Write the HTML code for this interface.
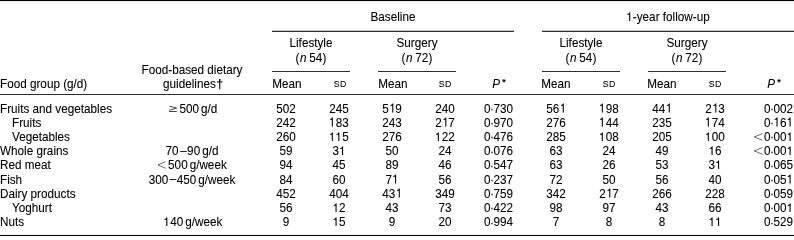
<!DOCTYPE html>
<html><head><meta charset="utf-8"><style>
html,body{margin:0;padding:0;background:#fff;}
body{width:794px;height:236px;position:relative;overflow:hidden;font-family:"Liberation Sans",sans-serif;font-size:12.6px;color:#000;}
.wrap{position:absolute;left:0;top:0;width:794px;height:236px;will-change:transform;}
.t{position:absolute;white-space:nowrap;line-height:16px;height:16px;transform:scaleX(0.93016);-webkit-text-stroke:0.1px #000;}
.r{position:absolute;}
.sd{font-size:9.45px;letter-spacing:0.4px;position:relative;top:-0.8px;margin-left:0.4px;}
.ast{font-size:9.45px;position:relative;top:-2.3px;font-weight:bold;}
.dag{font-weight:bold;}
.dot{margin:0 -0.55px;position:relative;top:0.4px;}
i{font-style:italic;}
.sym{vertical-align:0;}
.one{vertical-align:0;}
.dash{position:relative;top:-0.7px;}
</style></head><body>
<div class="wrap">
<div class="r" style="left:0px;width:794px;top:0px;height:1px;background:#000"></div>
<div class="r" style="left:0px;width:794px;top:1px;height:1px;background:#efefef"></div>
<div class="r" style="left:272px;width:242px;top:30px;height:1px;background:#c8c8c8"></div>
<div class="r" style="left:272px;width:242px;top:31px;height:1px;background:#2e2e2e"></div>
<div class="r" style="left:542px;width:252px;top:30px;height:1px;background:#c8c8c8"></div>
<div class="r" style="left:542px;width:252px;top:31px;height:1px;background:#2e2e2e"></div>
<div class="r" style="left:272px;width:77.5px;top:71px;height:1px;background:#2e2e2e"></div>
<div class="r" style="left:378px;width:77.5px;top:71px;height:1px;background:#2e2e2e"></div>
<div class="r" style="left:542px;width:77.5px;top:71px;height:1px;background:#2e2e2e"></div>
<div class="r" style="left:648px;width:77.5px;top:71px;height:1px;background:#2e2e2e"></div>
<div class="r" style="left:0px;width:794px;top:94px;height:1px;background:#2e2e2e"></div>
<div class="r" style="left:0px;width:794px;top:234px;height:1px;background:#f4f4f4"></div>
<div class="r" style="left:0px;width:794px;top:235px;height:1px;background:#000"></div>
<div class="t" style="left:242.90px;width:300px;text-align:center;transform-origin:50% 0;top:9.03px;">Baseline</div>
<div class="t" style="left:518.00px;width:300px;text-align:center;transform-origin:50% 0;top:9.03px;"><svg class="one" width="7.006" height="9.450" viewBox="0 -750 556 750"><path d="M262,0 L348,0 L348,-709 L280,-709 C262,-640 215,-598 108,-590 L108,-526 L262,-526 Z" fill="#000" stroke="#000" stroke-width="8"/></svg>-year follow-up</div>
<div class="t" style="left:160.75px;width:300px;text-align:center;transform-origin:50% 0;top:35.23px;">Lifestyle</div>
<div class="t" style="left:160.60px;width:300px;text-align:center;transform-origin:50% 0;top:49.83px;">(<span style="display:inline-block;width:0.645px"></span><i>n</i><span style="display:inline-block;width:2.795px"></span>54<span style="display:inline-block;width:0.430px"></span>)</div>
<div class="t" style="left:266.50px;width:300px;text-align:center;transform-origin:50% 0;top:35.23px;">Surgery</div>
<div class="t" style="left:266.70px;width:300px;text-align:center;transform-origin:50% 0;top:49.83px;">(<span style="display:inline-block;width:0.645px"></span><i>n</i><span style="display:inline-block;width:2.795px"></span>72<span style="display:inline-block;width:0.430px"></span>)</div>
<div class="t" style="left:430.75px;width:300px;text-align:center;transform-origin:50% 0;top:35.23px;">Lifestyle</div>
<div class="t" style="left:430.60px;width:300px;text-align:center;transform-origin:50% 0;top:49.83px;">(<span style="display:inline-block;width:0.645px"></span><i>n</i><span style="display:inline-block;width:2.795px"></span>54<span style="display:inline-block;width:0.430px"></span>)</div>
<div class="t" style="left:536.50px;width:300px;text-align:center;transform-origin:50% 0;top:35.23px;">Surgery</div>
<div class="t" style="left:536.70px;width:300px;text-align:center;transform-origin:50% 0;top:49.83px;">(<span style="display:inline-block;width:0.645px"></span><i>n</i><span style="display:inline-block;width:2.795px"></span>72<span style="display:inline-block;width:0.430px"></span>)</div>
<div class="t" style="left:0.00px;transform-origin:0 0;top:75.73px;">Food group (g/d)</div>
<div class="t" style="left:42.40px;width:300px;text-align:center;transform-origin:50% 0;top:61.83px;">Food-based dietary</div>
<div class="t" style="left:42.60px;width:300px;text-align:center;transform-origin:50% 0;top:75.83px;">guidelines<span style="display:inline-block;width:0.645px"></span><span class="dag">&#8224;</span></div>
<div class="t" style="left:136.60px;width:300px;text-align:center;transform-origin:50% 0;top:75.73px;">Mean</div>
<div class="t" style="left:242.50px;width:300px;text-align:center;transform-origin:50% 0;top:75.73px;">Mean</div>
<div class="t" style="left:406.20px;width:300px;text-align:center;transform-origin:50% 0;top:75.73px;">Mean</div>
<div class="t" style="left:512.20px;width:300px;text-align:center;transform-origin:50% 0;top:75.73px;">Mean</div>
<div class="t" style="left:189.50px;width:300px;text-align:center;transform-origin:50% 0;top:75.73px;"><span class="sd">SD</span></div>
<div class="t" style="left:295.40px;width:300px;text-align:center;transform-origin:50% 0;top:75.73px;"><span class="sd">SD</span></div>
<div class="t" style="left:459.40px;width:300px;text-align:center;transform-origin:50% 0;top:75.73px;"><span class="sd">SD</span></div>
<div class="t" style="left:565.30px;width:300px;text-align:center;transform-origin:50% 0;top:75.73px;"><span class="sd">SD</span></div>
<div class="t" style="left:348.50px;width:300px;text-align:center;transform-origin:50% 0;top:75.73px;"><i>P</i><span style="display:inline-block;width:2.365px"></span><span class="ast">*</span></div>
<div class="t" style="left:624.00px;width:300px;text-align:center;transform-origin:50% 0;top:75.73px;"><i>P</i><span style="display:inline-block;width:2.365px"></span><span class="ast">*</span></div>
<div class="t" style="left:0.00px;transform-origin:0 0;top:100.53px;">Fruits and vegetables</div>
<div class="t" style="left:42.75px;width:300px;text-align:center;transform-origin:50% 0;top:100.53px;"><svg class="sym" width="9.676" height="9" viewBox="0 0 9 9" preserveAspectRatio="none"><polyline points="0.6,2.2 7.8,4.05 0.6,6.25" fill="none" stroke="#333" stroke-width="0.9"/><line x1="0.2" y1="7.5" x2="8.0" y2="7.5" stroke="#333" stroke-width="0.9"/></svg><span style="display:inline-block;width:1.935px"></span>500<span style="display:inline-block;width:2.150px"></span>g/d</div>
<div class="t" style="left:136.20px;width:300px;text-align:center;transform-origin:50% 0;top:100.53px;">502</div>
<div class="t" style="left:189.20px;width:300px;text-align:center;transform-origin:50% 0;top:100.53px;">245</div>
<div class="t" style="left:242.10px;width:300px;text-align:center;transform-origin:50% 0;top:100.53px;">5<svg class="one" width="7.006" height="9.450" viewBox="0 -750 556 750"><path d="M262,0 L348,0 L348,-709 L280,-709 C262,-640 215,-598 108,-590 L108,-526 L262,-526 Z" fill="#000" stroke="#000" stroke-width="8"/></svg>9</div>
<div class="t" style="left:295.40px;width:300px;text-align:center;transform-origin:50% 0;top:100.53px;">240</div>
<div class="t" style="left:212.80px;width:300px;text-align:right;transform-origin:100% 0;top:100.53px;">0<span class="dot">·</span>730</div>
<div class="t" style="left:405.90px;width:300px;text-align:center;transform-origin:50% 0;top:100.53px;">56<svg class="one" width="7.006" height="9.450" viewBox="0 -750 556 750"><path d="M262,0 L348,0 L348,-709 L280,-709 C262,-640 215,-598 108,-590 L108,-526 L262,-526 Z" fill="#000" stroke="#000" stroke-width="8"/></svg></div>
<div class="t" style="left:459.10px;width:300px;text-align:center;transform-origin:50% 0;top:100.53px;"><svg class="one" width="7.006" height="9.450" viewBox="0 -750 556 750"><path d="M262,0 L348,0 L348,-709 L280,-709 C262,-640 215,-598 108,-590 L108,-526 L262,-526 Z" fill="#000" stroke="#000" stroke-width="8"/></svg>98</div>
<div class="t" style="left:511.70px;width:300px;text-align:center;transform-origin:50% 0;top:100.53px;">44<svg class="one" width="7.006" height="9.450" viewBox="0 -750 556 750"><path d="M262,0 L348,0 L348,-709 L280,-709 C262,-640 215,-598 108,-590 L108,-526 L262,-526 Z" fill="#000" stroke="#000" stroke-width="8"/></svg></div>
<div class="t" style="left:564.90px;width:300px;text-align:center;transform-origin:50% 0;top:100.53px;">2<svg class="one" width="7.006" height="9.450" viewBox="0 -750 556 750"><path d="M262,0 L348,0 L348,-709 L280,-709 C262,-640 215,-598 108,-590 L108,-526 L262,-526 Z" fill="#000" stroke="#000" stroke-width="8"/></svg>3</div>
<div class="t" style="left:493.00px;width:300px;text-align:right;transform-origin:100% 0;top:100.53px;">0<span class="dot">·</span>002</div>
<div class="t" style="left:11.60px;transform-origin:0 0;top:114.75px;">Fruits</div>
<div class="t" style="left:136.20px;width:300px;text-align:center;transform-origin:50% 0;top:114.75px;">242</div>
<div class="t" style="left:189.20px;width:300px;text-align:center;transform-origin:50% 0;top:114.75px;"><svg class="one" width="7.006" height="9.450" viewBox="0 -750 556 750"><path d="M262,0 L348,0 L348,-709 L280,-709 C262,-640 215,-598 108,-590 L108,-526 L262,-526 Z" fill="#000" stroke="#000" stroke-width="8"/></svg>83</div>
<div class="t" style="left:242.10px;width:300px;text-align:center;transform-origin:50% 0;top:114.75px;">243</div>
<div class="t" style="left:295.40px;width:300px;text-align:center;transform-origin:50% 0;top:114.75px;">2<svg class="one" width="7.006" height="9.450" viewBox="0 -750 556 750"><path d="M262,0 L348,0 L348,-709 L280,-709 C262,-640 215,-598 108,-590 L108,-526 L262,-526 Z" fill="#000" stroke="#000" stroke-width="8"/></svg>7</div>
<div class="t" style="left:212.80px;width:300px;text-align:right;transform-origin:100% 0;top:114.75px;">0<span class="dot">·</span>970</div>
<div class="t" style="left:405.90px;width:300px;text-align:center;transform-origin:50% 0;top:114.75px;">276</div>
<div class="t" style="left:459.10px;width:300px;text-align:center;transform-origin:50% 0;top:114.75px;"><svg class="one" width="7.006" height="9.450" viewBox="0 -750 556 750"><path d="M262,0 L348,0 L348,-709 L280,-709 C262,-640 215,-598 108,-590 L108,-526 L262,-526 Z" fill="#000" stroke="#000" stroke-width="8"/></svg>44</div>
<div class="t" style="left:511.70px;width:300px;text-align:center;transform-origin:50% 0;top:114.75px;">235</div>
<div class="t" style="left:564.90px;width:300px;text-align:center;transform-origin:50% 0;top:114.75px;"><svg class="one" width="7.006" height="9.450" viewBox="0 -750 556 750"><path d="M262,0 L348,0 L348,-709 L280,-709 C262,-640 215,-598 108,-590 L108,-526 L262,-526 Z" fill="#000" stroke="#000" stroke-width="8"/></svg>74</div>
<div class="t" style="left:493.00px;width:300px;text-align:right;transform-origin:100% 0;top:114.75px;">0<span class="dot">·</span><svg class="one" width="7.006" height="9.450" viewBox="0 -750 556 750"><path d="M262,0 L348,0 L348,-709 L280,-709 C262,-640 215,-598 108,-590 L108,-526 L262,-526 Z" fill="#000" stroke="#000" stroke-width="8"/></svg>6<svg class="one" width="7.006" height="9.450" viewBox="0 -750 556 750"><path d="M262,0 L348,0 L348,-709 L280,-709 C262,-640 215,-598 108,-590 L108,-526 L262,-526 Z" fill="#000" stroke="#000" stroke-width="8"/></svg></div>
<div class="t" style="left:11.60px;transform-origin:0 0;top:128.97px;">Vegetables</div>
<div class="t" style="left:136.20px;width:300px;text-align:center;transform-origin:50% 0;top:128.97px;">260</div>
<div class="t" style="left:189.20px;width:300px;text-align:center;transform-origin:50% 0;top:128.97px;"><svg class="one" width="7.006" height="9.450" viewBox="0 -750 556 750"><path d="M262,0 L348,0 L348,-709 L280,-709 C262,-640 215,-598 108,-590 L108,-526 L262,-526 Z" fill="#000" stroke="#000" stroke-width="8"/></svg><svg class="one" width="7.006" height="9.450" viewBox="0 -750 556 750"><path d="M262,0 L348,0 L348,-709 L280,-709 C262,-640 215,-598 108,-590 L108,-526 L262,-526 Z" fill="#000" stroke="#000" stroke-width="8"/></svg>5</div>
<div class="t" style="left:242.10px;width:300px;text-align:center;transform-origin:50% 0;top:128.97px;">276</div>
<div class="t" style="left:295.40px;width:300px;text-align:center;transform-origin:50% 0;top:128.97px;"><svg class="one" width="7.006" height="9.450" viewBox="0 -750 556 750"><path d="M262,0 L348,0 L348,-709 L280,-709 C262,-640 215,-598 108,-590 L108,-526 L262,-526 Z" fill="#000" stroke="#000" stroke-width="8"/></svg>22</div>
<div class="t" style="left:212.80px;width:300px;text-align:right;transform-origin:100% 0;top:128.97px;">0<span class="dot">·</span>476</div>
<div class="t" style="left:405.90px;width:300px;text-align:center;transform-origin:50% 0;top:128.97px;">285</div>
<div class="t" style="left:459.10px;width:300px;text-align:center;transform-origin:50% 0;top:128.97px;"><svg class="one" width="7.006" height="9.450" viewBox="0 -750 556 750"><path d="M262,0 L348,0 L348,-709 L280,-709 C262,-640 215,-598 108,-590 L108,-526 L262,-526 Z" fill="#000" stroke="#000" stroke-width="8"/></svg>08</div>
<div class="t" style="left:511.70px;width:300px;text-align:center;transform-origin:50% 0;top:128.97px;">205</div>
<div class="t" style="left:564.90px;width:300px;text-align:center;transform-origin:50% 0;top:128.97px;"><svg class="one" width="7.006" height="9.450" viewBox="0 -750 556 750"><path d="M262,0 L348,0 L348,-709 L280,-709 C262,-640 215,-598 108,-590 L108,-526 L262,-526 Z" fill="#000" stroke="#000" stroke-width="8"/></svg>00</div>
<div class="t" style="left:493.00px;width:300px;text-align:right;transform-origin:100% 0;top:128.97px;"><svg class="sym" width="9.676" height="9" viewBox="0 0 9.0 9" preserveAspectRatio="none"><polyline points="8.5,1.6 0.3,4.95 8.5,8.3" fill="none" stroke="#444" stroke-width="0.8"/></svg><span style="display:inline-block;width:1.290px"></span>0<span class="dot">·</span>00<svg class="one" width="7.006" height="9.450" viewBox="0 -750 556 750"><path d="M262,0 L348,0 L348,-709 L280,-709 C262,-640 215,-598 108,-590 L108,-526 L262,-526 Z" fill="#000" stroke="#000" stroke-width="8"/></svg></div>
<div class="t" style="left:0.00px;transform-origin:0 0;top:143.19px;">Whole grains</div>
<div class="t" style="left:42.30px;width:300px;text-align:center;transform-origin:50% 0;top:143.19px;">70<span style="display:inline-block;width:1.720px"></span><span class="dash">&#8211;</span><span style="display:inline-block;width:0.430px"></span>90<span style="display:inline-block;width:2.150px"></span>g/d</div>
<div class="t" style="left:136.20px;width:300px;text-align:center;transform-origin:50% 0;top:143.19px;">59</div>
<div class="t" style="left:189.20px;width:300px;text-align:center;transform-origin:50% 0;top:143.19px;">3<svg class="one" width="7.006" height="9.450" viewBox="0 -750 556 750"><path d="M262,0 L348,0 L348,-709 L280,-709 C262,-640 215,-598 108,-590 L108,-526 L262,-526 Z" fill="#000" stroke="#000" stroke-width="8"/></svg></div>
<div class="t" style="left:242.10px;width:300px;text-align:center;transform-origin:50% 0;top:143.19px;">50</div>
<div class="t" style="left:295.40px;width:300px;text-align:center;transform-origin:50% 0;top:143.19px;">24</div>
<div class="t" style="left:212.80px;width:300px;text-align:right;transform-origin:100% 0;top:143.19px;">0<span class="dot">·</span>076</div>
<div class="t" style="left:405.90px;width:300px;text-align:center;transform-origin:50% 0;top:143.19px;">63</div>
<div class="t" style="left:459.10px;width:300px;text-align:center;transform-origin:50% 0;top:143.19px;">24</div>
<div class="t" style="left:511.70px;width:300px;text-align:center;transform-origin:50% 0;top:143.19px;">49</div>
<div class="t" style="left:564.90px;width:300px;text-align:center;transform-origin:50% 0;top:143.19px;"><svg class="one" width="7.006" height="9.450" viewBox="0 -750 556 750"><path d="M262,0 L348,0 L348,-709 L280,-709 C262,-640 215,-598 108,-590 L108,-526 L262,-526 Z" fill="#000" stroke="#000" stroke-width="8"/></svg>6</div>
<div class="t" style="left:493.00px;width:300px;text-align:right;transform-origin:100% 0;top:143.19px;"><svg class="sym" width="9.676" height="9" viewBox="0 0 9.0 9" preserveAspectRatio="none"><polyline points="8.5,1.6 0.3,4.95 8.5,8.3" fill="none" stroke="#444" stroke-width="0.8"/></svg><span style="display:inline-block;width:1.290px"></span>0<span class="dot">·</span>00<svg class="one" width="7.006" height="9.450" viewBox="0 -750 556 750"><path d="M262,0 L348,0 L348,-709 L280,-709 C262,-640 215,-598 108,-590 L108,-526 L262,-526 Z" fill="#000" stroke="#000" stroke-width="8"/></svg></div>
<div class="t" style="left:0.00px;transform-origin:0 0;top:157.41px;">Red meat</div>
<div class="t" style="left:42.40px;width:300px;text-align:center;transform-origin:50% 0;top:157.41px;"><svg class="sym" width="9.138" height="9" viewBox="0 0 8.5 9" preserveAspectRatio="none"><polyline points="8.0,1.6 0.3,4.95 8.0,8.3" fill="none" stroke="#444" stroke-width="0.8"/></svg><span style="display:inline-block;width:2.580px"></span>500<span style="display:inline-block;width:2.150px"></span>g/week</div>
<div class="t" style="left:136.20px;width:300px;text-align:center;transform-origin:50% 0;top:157.41px;">94</div>
<div class="t" style="left:189.20px;width:300px;text-align:center;transform-origin:50% 0;top:157.41px;">45</div>
<div class="t" style="left:242.10px;width:300px;text-align:center;transform-origin:50% 0;top:157.41px;">89</div>
<div class="t" style="left:295.40px;width:300px;text-align:center;transform-origin:50% 0;top:157.41px;">46</div>
<div class="t" style="left:212.80px;width:300px;text-align:right;transform-origin:100% 0;top:157.41px;">0<span class="dot">·</span>547</div>
<div class="t" style="left:405.90px;width:300px;text-align:center;transform-origin:50% 0;top:157.41px;">63</div>
<div class="t" style="left:459.10px;width:300px;text-align:center;transform-origin:50% 0;top:157.41px;">26</div>
<div class="t" style="left:511.70px;width:300px;text-align:center;transform-origin:50% 0;top:157.41px;">53</div>
<div class="t" style="left:564.90px;width:300px;text-align:center;transform-origin:50% 0;top:157.41px;">3<svg class="one" width="7.006" height="9.450" viewBox="0 -750 556 750"><path d="M262,0 L348,0 L348,-709 L280,-709 C262,-640 215,-598 108,-590 L108,-526 L262,-526 Z" fill="#000" stroke="#000" stroke-width="8"/></svg></div>
<div class="t" style="left:493.00px;width:300px;text-align:right;transform-origin:100% 0;top:157.41px;">0<span class="dot">·</span>065</div>
<div class="t" style="left:0.00px;transform-origin:0 0;top:171.63px;">Fish</div>
<div class="t" style="left:42.20px;width:300px;text-align:center;transform-origin:50% 0;top:171.63px;">300<span style="display:inline-block;width:1.720px"></span><span class="dash">&#8211;</span><span style="display:inline-block;width:0.430px"></span>450<span style="display:inline-block;width:2.150px"></span>g/week</div>
<div class="t" style="left:136.20px;width:300px;text-align:center;transform-origin:50% 0;top:171.63px;">84</div>
<div class="t" style="left:189.20px;width:300px;text-align:center;transform-origin:50% 0;top:171.63px;">60</div>
<div class="t" style="left:242.10px;width:300px;text-align:center;transform-origin:50% 0;top:171.63px;">7<svg class="one" width="7.006" height="9.450" viewBox="0 -750 556 750"><path d="M262,0 L348,0 L348,-709 L280,-709 C262,-640 215,-598 108,-590 L108,-526 L262,-526 Z" fill="#000" stroke="#000" stroke-width="8"/></svg></div>
<div class="t" style="left:295.40px;width:300px;text-align:center;transform-origin:50% 0;top:171.63px;">56</div>
<div class="t" style="left:212.80px;width:300px;text-align:right;transform-origin:100% 0;top:171.63px;">0<span class="dot">·</span>237</div>
<div class="t" style="left:405.90px;width:300px;text-align:center;transform-origin:50% 0;top:171.63px;">72</div>
<div class="t" style="left:459.10px;width:300px;text-align:center;transform-origin:50% 0;top:171.63px;">50</div>
<div class="t" style="left:511.70px;width:300px;text-align:center;transform-origin:50% 0;top:171.63px;">56</div>
<div class="t" style="left:564.90px;width:300px;text-align:center;transform-origin:50% 0;top:171.63px;">40</div>
<div class="t" style="left:493.00px;width:300px;text-align:right;transform-origin:100% 0;top:171.63px;">0<span class="dot">·</span>05<svg class="one" width="7.006" height="9.450" viewBox="0 -750 556 750"><path d="M262,0 L348,0 L348,-709 L280,-709 C262,-640 215,-598 108,-590 L108,-526 L262,-526 Z" fill="#000" stroke="#000" stroke-width="8"/></svg></div>
<div class="t" style="left:0.00px;transform-origin:0 0;top:185.85px;">Dairy products</div>
<div class="t" style="left:136.20px;width:300px;text-align:center;transform-origin:50% 0;top:185.85px;">452</div>
<div class="t" style="left:189.20px;width:300px;text-align:center;transform-origin:50% 0;top:185.85px;">404</div>
<div class="t" style="left:242.10px;width:300px;text-align:center;transform-origin:50% 0;top:185.85px;">43<svg class="one" width="7.006" height="9.450" viewBox="0 -750 556 750"><path d="M262,0 L348,0 L348,-709 L280,-709 C262,-640 215,-598 108,-590 L108,-526 L262,-526 Z" fill="#000" stroke="#000" stroke-width="8"/></svg></div>
<div class="t" style="left:295.40px;width:300px;text-align:center;transform-origin:50% 0;top:185.85px;">349</div>
<div class="t" style="left:212.80px;width:300px;text-align:right;transform-origin:100% 0;top:185.85px;">0<span class="dot">·</span>759</div>
<div class="t" style="left:405.90px;width:300px;text-align:center;transform-origin:50% 0;top:185.85px;">342</div>
<div class="t" style="left:459.10px;width:300px;text-align:center;transform-origin:50% 0;top:185.85px;">2<svg class="one" width="7.006" height="9.450" viewBox="0 -750 556 750"><path d="M262,0 L348,0 L348,-709 L280,-709 C262,-640 215,-598 108,-590 L108,-526 L262,-526 Z" fill="#000" stroke="#000" stroke-width="8"/></svg>7</div>
<div class="t" style="left:511.70px;width:300px;text-align:center;transform-origin:50% 0;top:185.85px;">266</div>
<div class="t" style="left:564.90px;width:300px;text-align:center;transform-origin:50% 0;top:185.85px;">228</div>
<div class="t" style="left:493.00px;width:300px;text-align:right;transform-origin:100% 0;top:185.85px;">0<span class="dot">·</span>059</div>
<div class="t" style="left:11.60px;transform-origin:0 0;top:200.07px;">Yoghurt</div>
<div class="t" style="left:136.20px;width:300px;text-align:center;transform-origin:50% 0;top:200.07px;">56</div>
<div class="t" style="left:189.20px;width:300px;text-align:center;transform-origin:50% 0;top:200.07px;"><svg class="one" width="7.006" height="9.450" viewBox="0 -750 556 750"><path d="M262,0 L348,0 L348,-709 L280,-709 C262,-640 215,-598 108,-590 L108,-526 L262,-526 Z" fill="#000" stroke="#000" stroke-width="8"/></svg>2</div>
<div class="t" style="left:242.10px;width:300px;text-align:center;transform-origin:50% 0;top:200.07px;">43</div>
<div class="t" style="left:295.40px;width:300px;text-align:center;transform-origin:50% 0;top:200.07px;">73</div>
<div class="t" style="left:212.80px;width:300px;text-align:right;transform-origin:100% 0;top:200.07px;">0<span class="dot">·</span>422</div>
<div class="t" style="left:405.90px;width:300px;text-align:center;transform-origin:50% 0;top:200.07px;">98</div>
<div class="t" style="left:459.10px;width:300px;text-align:center;transform-origin:50% 0;top:200.07px;">97</div>
<div class="t" style="left:511.70px;width:300px;text-align:center;transform-origin:50% 0;top:200.07px;">43</div>
<div class="t" style="left:564.90px;width:300px;text-align:center;transform-origin:50% 0;top:200.07px;">66</div>
<div class="t" style="left:493.00px;width:300px;text-align:right;transform-origin:100% 0;top:200.07px;">0<span class="dot">·</span>00<svg class="one" width="7.006" height="9.450" viewBox="0 -750 556 750"><path d="M262,0 L348,0 L348,-709 L280,-709 C262,-640 215,-598 108,-590 L108,-526 L262,-526 Z" fill="#000" stroke="#000" stroke-width="8"/></svg></div>
<div class="t" style="left:0.00px;transform-origin:0 0;top:214.29px;">Nuts</div>
<div class="t" style="left:42.90px;width:300px;text-align:center;transform-origin:50% 0;top:214.29px;"><svg class="one" width="7.006" height="9.450" viewBox="0 -750 556 750"><path d="M262,0 L348,0 L348,-709 L280,-709 C262,-640 215,-598 108,-590 L108,-526 L262,-526 Z" fill="#000" stroke="#000" stroke-width="8"/></svg>40<span style="display:inline-block;width:2.150px"></span>g/week</div>
<div class="t" style="left:136.20px;width:300px;text-align:center;transform-origin:50% 0;top:214.29px;">9</div>
<div class="t" style="left:189.20px;width:300px;text-align:center;transform-origin:50% 0;top:214.29px;"><svg class="one" width="7.006" height="9.450" viewBox="0 -750 556 750"><path d="M262,0 L348,0 L348,-709 L280,-709 C262,-640 215,-598 108,-590 L108,-526 L262,-526 Z" fill="#000" stroke="#000" stroke-width="8"/></svg>5</div>
<div class="t" style="left:242.10px;width:300px;text-align:center;transform-origin:50% 0;top:214.29px;">9</div>
<div class="t" style="left:295.40px;width:300px;text-align:center;transform-origin:50% 0;top:214.29px;">20</div>
<div class="t" style="left:212.80px;width:300px;text-align:right;transform-origin:100% 0;top:214.29px;">0<span class="dot">·</span>994</div>
<div class="t" style="left:405.90px;width:300px;text-align:center;transform-origin:50% 0;top:214.29px;">7</div>
<div class="t" style="left:459.10px;width:300px;text-align:center;transform-origin:50% 0;top:214.29px;">8</div>
<div class="t" style="left:511.70px;width:300px;text-align:center;transform-origin:50% 0;top:214.29px;">8</div>
<div class="t" style="left:564.90px;width:300px;text-align:center;transform-origin:50% 0;top:214.29px;"><svg class="one" width="7.006" height="9.450" viewBox="0 -750 556 750"><path d="M262,0 L348,0 L348,-709 L280,-709 C262,-640 215,-598 108,-590 L108,-526 L262,-526 Z" fill="#000" stroke="#000" stroke-width="8"/></svg><svg class="one" width="7.006" height="9.450" viewBox="0 -750 556 750"><path d="M262,0 L348,0 L348,-709 L280,-709 C262,-640 215,-598 108,-590 L108,-526 L262,-526 Z" fill="#000" stroke="#000" stroke-width="8"/></svg></div>
<div class="t" style="left:493.00px;width:300px;text-align:right;transform-origin:100% 0;top:214.29px;">0<span class="dot">·</span>529</div>
</div>
</body></html>
